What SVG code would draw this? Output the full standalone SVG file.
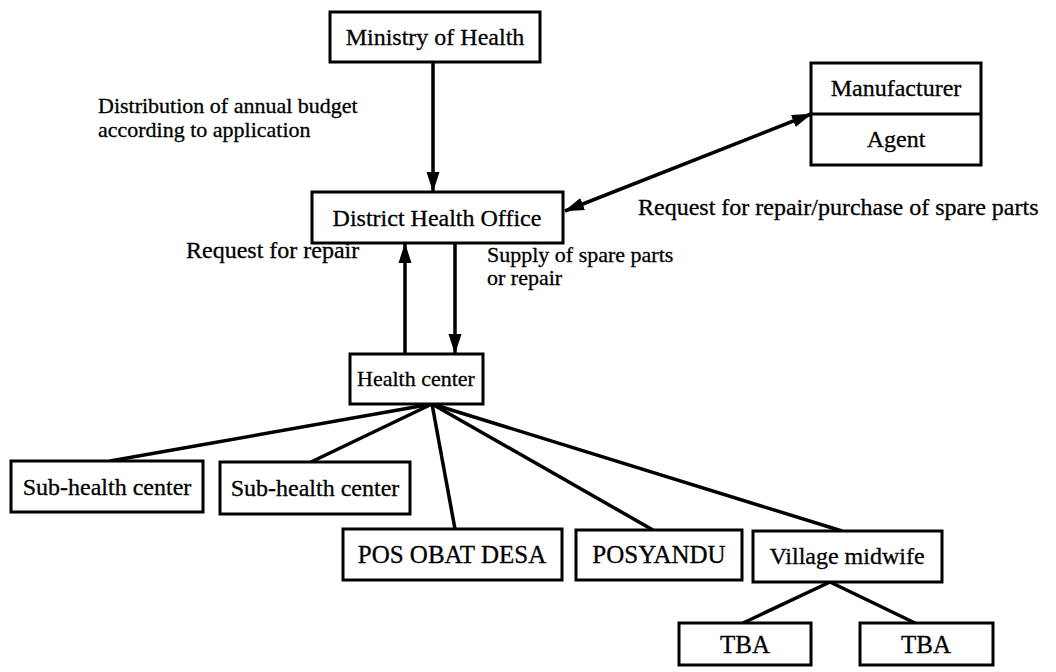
<svg xmlns="http://www.w3.org/2000/svg" width="1056" height="672" viewBox="0 0 1056 672">
<style>
.box{fill:#fff;stroke:#000;stroke-width:3}
.t{font-family:"Liberation Serif","Times New Roman",serif;font-size:24px;fill:#000;stroke:#000;stroke-width:0.3}
.sm{font-size:22px}
.cap{font-size:25px}
.c{text-anchor:middle}
.ln{stroke:#000;stroke-width:3.5;fill:none}
</style>
<defs>
<marker id="ah" viewBox="0 0 20 14" refX="19" refY="7" markerWidth="20" markerHeight="14" markerUnits="userSpaceOnUse" orient="auto-start-reverse">
<path d="M0,0.5 L20,7 L0,13.5 Z" fill="#000"/>
</marker>
</defs>
<rect width="1056" height="672" fill="#fff"/>
<g id="connectors">
<line class="ln" x1="433" y1="62" x2="433" y2="191" marker-end="url(#ah)"/>
<line class="ln" x1="565" y1="211" x2="811" y2="114" marker-start="url(#ah)" marker-end="url(#ah)"/>
<line class="ln" x1="405" y1="354" x2="405" y2="244" marker-end="url(#ah)"/>
<line class="ln" x1="455" y1="243" x2="455" y2="353" marker-end="url(#ah)"/>
<line class="ln" x1="432" y1="404" x2="110" y2="461"/>
<line class="ln" x1="432" y1="404" x2="311" y2="462"/>
<line class="ln" x1="432" y1="404" x2="455" y2="529"/>
<line class="ln" x1="432" y1="404" x2="653" y2="530"/>
<line class="ln" x1="432" y1="404" x2="842" y2="531"/>
<line class="ln" x1="830" y1="582" x2="743" y2="623"/>
<line class="ln" x1="830" y1="582" x2="915" y2="623"/>
</g>
<g id="labels">
<text class="t sm" x="98" y="113">Distribution of annual budget</text>
<text class="t sm" x="98" y="137">according to application</text>
<text class="t" x="638" y="215">Request for repair/purchase of spare parts</text>
<text class="t" x="186" y="258">Request for repair</text>
<text class="t sm" x="487" y="262">Supply of spare parts</text>
<text class="t sm" x="487" y="285">or repair</text>
</g>
<g id="ministry"><rect class="box" x="330" y="12" width="210" height="50"/><text class="t c" x="435" y="45">Ministry of Health</text></g>
<g id="manufacturer"><rect class="box" x="811" y="63" width="170" height="102"/><line x1="811" y1="114" x2="981" y2="114" stroke="#000" stroke-width="3"/><text class="t c" x="896" y="96">Manufacturer</text><text class="t c" x="896" y="147">Agent</text></g>
<g id="dho"><rect class="box" x="312" y="192" width="251" height="51"/><text class="t c" x="437" y="226">District Health Office</text></g>
<g id="health-center"><rect class="box" x="350" y="354" width="133" height="50"/><text class="t c sm" x="416" y="386">Health center</text></g>
<g id="sub1"><rect class="box" x="11" y="461" width="192" height="51"/><text class="t c" x="107" y="495">Sub-health center</text></g>
<g id="sub2"><rect class="box" x="220" y="462" width="190" height="52"/><text class="t c" x="315" y="496">Sub-health center</text></g>
<g id="pos-obat"><rect class="box" x="343" y="529" width="219" height="51"/><text class="t c cap" x="452" y="563">POS OBAT DESA</text></g>
<g id="posyandu"><rect class="box" x="576" y="530" width="166" height="50"/><text class="t c cap" x="659" y="563">POSYANDU</text></g>
<g id="midwife"><rect class="box" x="753" y="531" width="189" height="51"/><text class="t c" x="847" y="564">Village midwife</text></g>
<g id="tba1"><rect class="box" x="679" y="623" width="132" height="42"/><text class="t c cap" x="745" y="653">TBA</text></g>
<g id="tba2"><rect class="box" x="860" y="623" width="133" height="42"/><text class="t c cap" x="926" y="653">TBA</text></g>
</svg>
